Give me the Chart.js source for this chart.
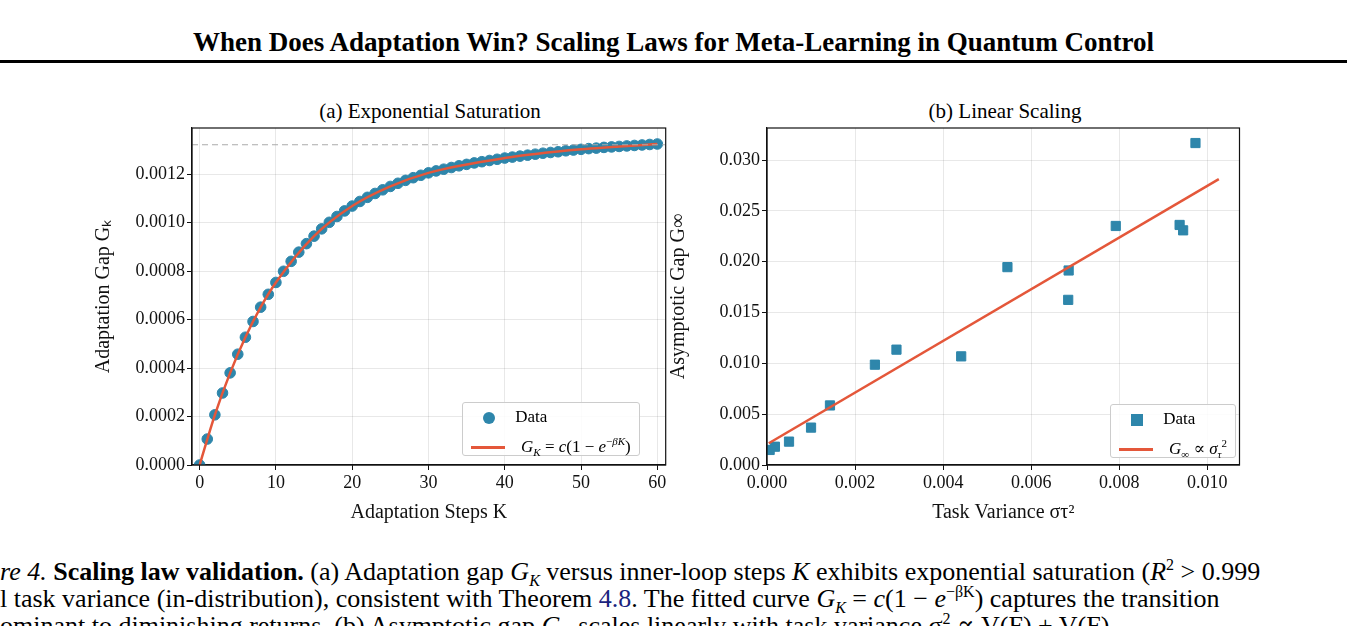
<!DOCTYPE html>
<html><head><meta charset="utf-8">
<script src="https://cdn.jsdelivr.net/npm/chart.js@4"></script>
<style>
body{margin:0;width:1347px;height:626px;overflow:hidden;background:#fff;font-family:"Liberation Serif","DejaVu Serif",serif;position:relative}
.abs{position:absolute;white-space:nowrap}
#title{left:0;width:1347px;top:27px;text-align:center;font-weight:bold;font-size:27px}
#rule{left:0;top:60px;width:1347px;height:3px;background:#000}
.sub{font-size:21px;top:99px;width:476px;text-align:center}
.leg{border:1px solid #ccc;border-radius:3px;background:rgba(255,255,255,.85);font-size:17px;padding:2px 8px}
.leg div{height:24px;line-height:24px}
.mk{display:inline-block;vertical-align:middle;margin-right:16px}
.cap{font-size:26px;left:0}
canvas{position:absolute}
</style></head><body>
<div class="abs" id="title">When Does Adaptation Win? Scaling Laws for Meta-Learning in Quantum Control</div>
<div class="abs" id="rule"></div>
<div class="abs sub" style="left:192px">(a) Exponential Saturation</div>
<div class="abs sub" style="left:767px">(b) Linear Scaling</div>
<canvas id="c1" style="left:92px;top:95px;width:580px;height:430px" width="580" height="430"></canvas>
<canvas id="c2" style="left:667px;top:95px;width:580px;height:430px" width="580" height="430"></canvas>
<div class="abs leg" style="left:462px;top:402px">
<div><span class="mk" style="width:12px;height:12px;border-radius:50%;background:#2e86ab;margin-left:12px"></span>&nbsp;Data</div>
<div><span class="mk" style="width:34px;height:3px;background:#e4573a"></span><i>G</i><sub style="font-size:11px"><i>K</i></sub> = <i>c</i>(1 − <i>e</i><sup style="font-size:11px">−<i>βK</i></sup>)</div>
</div>
<div class="abs leg" style="left:1110px;top:404px">
<div><span class="mk" style="width:12px;height:12px;background:#2e86ab;margin-left:12px"></span>&nbsp;Data</div>
<div><span class="mk" style="width:34px;height:3px;background:#e4573a"></span><i>G</i><sub style="font-size:11px">∞</sub> ∝ <i>σ</i><sub style="font-size:11px"><i>τ</i></sub><sup style="font-size:11px">2</sup></div>
</div>
<div class="abs cap" style="top:556px"><i>re 4.</i> <b>Scaling law validation.</b> (a) Adaptation gap <i>G<sub style="font-size:16px">K</sub></i> versus inner-loop steps <i>K</i> exhibits exponential saturation (<i>R</i><sup style="font-size:16px">2</sup> &gt; 0.999</div>
<div class="abs cap" style="top:583px">l task variance (in-distribution), consistent with Theorem <span style="color:#1a237e">4.8</span>. The fitted curve <i>G<sub style="font-size:16px">K</sub></i> = <i>c</i>(1 − <i>e</i><sup style="font-size:16px">−βK</sup>) captures the transition</div>
<div class="abs cap" style="top:610px">ominant to diminishing returns. (b) Asymptotic gap <i>G</i><sub style="font-size:16px">∞</sub> scales linearly with task variance σ<sup style="font-size:16px">2</sup> ∝ V(F) + V(F)</div>
<script>
const steps=[0,1,2,3,4,5,6,7,8,9,10,11,12,13,14,15,16,17,18,19,20,21,22,23,24,25,26,27,28,29,30,31,32,33,34,35,36,37,38,39,40,41,42,43,44,45,46,47,48,49,50,51,52,53,54,55,56,57,58,59,60];
const gap=[0,0.000107,0.000207,0.000297,0.00038,0.000457,0.000527,0.000592,0.000651,0.000704,0.000753,0.000799,0.00084,0.000878,0.000913,0.000944,0.000974,0.001001,0.001025,0.001048,0.001068,0.001087,0.001104,0.00112,0.001135,0.001149,0.001162,0.001174,0.001185,0.001195,0.001205,0.001213,0.00122,0.001227,0.001234,0.00124,0.001246,0.001251,0.001256,0.001261,0.001266,0.00127,0.001274,0.001278,0.001282,0.001286,0.001289,0.001292,0.001296,0.001299,0.001302,0.001305,0.001307,0.00131,0.001312,0.001314,0.001316,0.001318,0.00132,0.001322,0.001324];
const fitK=[0,2,4,6,8,10,15,20,25,30,40,50,60];
const fitG=[0,0.000207,0.00038,0.000527,0.000651,0.000753,0.000944,0.001068,0.001149,0.001205,0.001266,0.001302,0.001324];
const asymptote=0.001321;
const variance=[0.00006,0.00018,0.0005,0.001,0.00143,0.00245,0.00294,0.00441,0.00546,0.00685,0.00684,0.00792,0.00937,0.00945,0.00973];
const gInf=[0.00148,0.0018,0.0023,0.00368,0.00586,0.00987,0.01135,0.01069,0.01947,0.01914,0.01625,0.02352,0.02362,0.02309,0.03168];
const lineX=[0.00004,0.01026];
const lineY=[0.00214,0.02813];
const ticks1x=[0,10,20,30,40,50,60];
const ticks1y=[0,0.0002,0.0004,0.0006,0.0008,0.001,0.0012];
const ticks2x=[0,0.002,0.004,0.006,0.008,0.01];
const ticks2y=[0,0.005,0.01,0.015,0.02,0.025,0.03];
const BLUE='#2e86ab',RED='#e4573a';
const F={family:'Liberation Serif',size:18};
Chart.defaults.color='#111';
function axis(min,max,tks,dec,title,fit,isX){
 return {type:'linear',min,max,
  afterBuildTicks:a=>{a.ticks=tks.map(v=>({value:v}));},
  ticks:{font:F,color:'#111',padding:2,maxRotation:0,autoSkip:false,callback:v=>v.toFixed(dec)},
  grid:{color:'rgba(0,0,0,0.09)',tickColor:'#111',tickLength:5},
  border:{color:'#111',width:1.2},
  title:{display:true,text:title,font:{family:'Liberation Serif',size:20},padding:{top:0,bottom:0}},
  afterFit:a=>{if(isX)a.height=fit;else a.width=fit;}};
}
const frame={id:'frame',afterDraw(c){const a=c.chartArea,x=c.ctx;x.save();x.strokeStyle='#111';x.lineWidth=1.2;x.strokeRect(a.left,a.top,a.right-a.left,a.bottom-a.top);x.restore();}};
new Chart(document.getElementById('c1'),{type:'scatter',plugins:[frame],
 data:{datasets:[
  {type:'line',data:[{x:-1,y:asymptote},{x:61,y:asymptote}],borderColor:'#aaa',borderDash:[6,4],borderWidth:1.2,pointRadius:0},
  {type:'line',data:fitK.map((k,i)=>({x:k,y:fitG[i]})),borderColor:RED,borderWidth:2.5,pointRadius:0,cubicInterpolationMode:'monotone'},
  {data:steps.map((k,i)=>({x:k,y:gap[i]})),backgroundColor:BLUE,borderColor:BLUE,pointRadius:5.3}]},
 options:{animation:false,responsive:false,layout:{padding:{top:33,right:4,left:0,bottom:0}},
  plugins:{legend:{display:false},tooltip:{enabled:false}},
  scales:{x:axis(-1,61.1,ticks1x,0,'Adaptation Steps K',60,true),y:axis(0,0.00139,ticks1y,4,'Adaptation Gap Gₖ',100,false)}}});
new Chart(document.getElementById('c2'),{type:'scatter',plugins:[frame],
 data:{datasets:[
  {type:'line',data:lineX.map((v,i)=>({x:v,y:lineY[i]})),borderColor:RED,borderWidth:2.5,pointRadius:0},
  {data:variance.map((v,i)=>({x:v,y:gInf[i]})),backgroundColor:BLUE,borderColor:BLUE,pointStyle:'rect',pointRadius:6.5}]},
 options:{animation:false,responsive:false,layout:{padding:{top:33,right:4,left:0,bottom:0}},
  plugins:{legend:{display:false},tooltip:{enabled:false}},
  scales:{x:axis(0,0.01073,ticks2x,3,'Task Variance στ²',60,true),y:axis(0,0.03316,ticks2y,3,'Asymptotic Gap G∞',100,false)}}});
</script>
</body></html>
